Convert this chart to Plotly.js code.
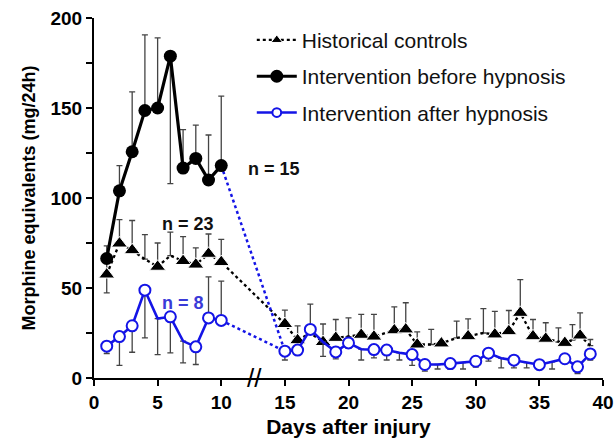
<!DOCTYPE html>
<html>
<head>
<meta charset="utf-8">
<script src="https://cdn.plot.ly/plotly-3.0.1.min.js"></script>
<style>html,body{margin:0;padding:0;background:#fff;}#chart{width:614px;height:443px;}</style>
</head>
<body>
<div id="chart"></div>
<script>
// ---- Data ----
const ctrlDays = [1,2,3,4,5,6,7,8,9,10,15,16,17,18,19,20,21,22,23.6,24.5,25.4,26.5,27.3,28.5,29.4,30.6,31.5,32.6,33.5,34.5,35.5,36.5,37,37.6,38.2,39];
const ctrlMean = [57.5,74.7,71,66,61.8,68,65,63,69,64.4,30,21,25,20,22.3,23,24,23,26.5,27,18.6,18.6,19.2,22.3,23.2,25,24.2,26,36.2,23.2,21.8,20,19.5,21,23.6,18];
const ctrlErrUp = [10,13.3,16.5,13.7,13.2,13,13.5,9.3,11,12.6,7.7,8,16,10,10.2,10.4,11.3,12.3,13,14.8,7,8.4,0,9.3,9.7,13.5,12.8,11.5,18.5,9.3,8.9,7.9,0,8.7,12.6,3.4];
const ctrlErrDown = [10.2,0,0,0,0,0,0,0,0,0,0,0,0,0,0,0,0,0,0,0,0,0,0,0,0,0,0,0,0,0,0,0,0,0,0,0];
const ctrlNoMarker = [4,6,17,20,26.5,28.5,30.6,36.5,37.6,39];

const beforeDays = [1,2,3,4,5,6,7,8,9,10];
const beforeMean = [66.4,104,125.7,148.6,150,178.8,116.6,122,110,118];
const beforeErrUp = [7,14,33.3,42,39,0,21.4,18.5,25,38.6];
const beforeErrDown = [0,0,0,0,0,70.8,0,0,0,0];

const afterEarlyDays = [1,2,3,4,5,6,7,8,9,10];
const afterEarlyMean = [17.7,23,29,48.8,33,34,20.5,17.3,33.4,32];
const afterEarlyErrUp = [0,0,0,0,0,0,0,0,22.8,21.8];
const afterEarlyErrDown = [4.1,16,14.7,26.5,20,20,12.1,9.8,0,0];

const afterLateDays = [15,16,17,18,19,20,21,22,23,24,25,26,27,28,29,30,31,32,33,34,35,36,37,38,39];
const afterLateMean = [14.9,15.5,27,20,14.5,19.5,16,15.8,15.5,14,13,7.5,7.5,8,8.5,9.3,13.8,11,9.9,8.5,7.4,9,10.7,6.2,13.4];
const afterLateErrDown = [4.9,1.9,0,8,3.9,3,6,4.6,5.5,4,6,3.7,2.5,3,3.5,3.3,4.4,5.4,4.3,2.9,2.7,4,2,3.7,3.4];
const afterNoMarker = [5,7,18,21,24,27,29,32,34,36];

const xTicks = [0,5,10,15,20,25,30,35,40];
const yTickVals = [0,25,50,75,100,125,150,175,200];
const yTickText = ['0','','50','','100','','150','','200'];

const seriesNames = ['Historical controls','Intervention before hypnosis','Intervention after hypnosis'];
const nLabels = [{text:'n = 15', x:14.15, y:116}, {text:'n = 23', x:7.4, y:85.5}, {text:'n = 8', x:7.0, y:41.8}];

// ---- Styles ----
const BLUE = '#1414e6';
const ERR = '#444';
const FONT = 'Liberation Sans, Arial, sans-serif';

const traces = [];
traces.push({
  x: ctrlDays, y: ctrlMean, type: 'scatter', mode: 'lines+markers', name: seriesNames[0],
  legendgroup: 'a', legendrank: 1,
  line: {color: '#000', width: 2.3, dash: 'dot'},
  marker: {symbol: 'triangle-up', color: '#000', opacity: 1, size: ctrlDays.map(d => ctrlNoMarker.includes(d) ? 0 : 14)},
  error_y: {type: 'data', symmetric: false, array: ctrlErrUp, arrayminus: ctrlErrDown, color: ERR, thickness: 1.3, width: 3}
});
traces.push({
  x: [beforeDays[beforeDays.length-1], afterLateDays[0]], y: [beforeMean[beforeMean.length-1], afterLateMean[0]],
  type: 'scatter', mode: 'lines', showlegend: false, hoverinfo: 'skip',
  line: {color: BLUE, width: 2.5, dash: 'dot'}
});
traces.push({
  x: [afterEarlyDays[afterEarlyDays.length-1], afterLateDays[0]], y: [afterEarlyMean[afterEarlyMean.length-1], afterLateMean[0]],
  type: 'scatter', mode: 'lines', showlegend: false, hoverinfo: 'skip',
  line: {color: BLUE, width: 2.5, dash: 'dot'}
});
traces.push({
  x: beforeDays, y: beforeMean, type: 'scatter', mode: 'lines+markers', name: seriesNames[1],
  legendgroup: 'b', legendrank: 2,
  line: {color: '#000', width: 3.2},
  marker: {symbol: 'circle', color: '#000', opacity: 1, size: 13},
  error_y: {type: 'data', symmetric: false, array: beforeErrUp, arrayminus: beforeErrDown, color: ERR, thickness: 1.3, width: 3}
});
traces.push({
  x: afterEarlyDays, y: afterEarlyMean, type: 'scatter', mode: 'lines+markers', name: seriesNames[2],
  legendgroup: 'c', legendrank: 3,
  line: {color: BLUE, width: 2.6},
  marker: {symbol: 'circle', color: '#ffffff', opacity: 1, size: afterEarlyDays.map(d => afterNoMarker.includes(d) ? 0 : 11), line: {color: BLUE, width: 2}},
  error_y: {type: 'data', symmetric: false, array: afterEarlyErrUp, arrayminus: afterEarlyErrDown, color: ERR, thickness: 1.3, width: 3}
});
traces.push({
  x: afterLateDays, y: afterLateMean, type: 'scatter', mode: 'lines+markers', name: seriesNames[2],
  legendgroup: 'c', showlegend: false,
  line: {color: BLUE, width: 2.6},
  marker: {symbol: 'circle', color: '#ffffff', opacity: 1, size: afterLateDays.map(d => afterNoMarker.includes(d) ? 0 : 11), line: {color: BLUE, width: 2}},
  error_y: {type: 'data', symmetric: false, array: afterLateDays.map(() => 0), arrayminus: afterLateErrDown, color: ERR, thickness: 1.3, width: 3}
});

const annotations = nLabels.map((n, i) => ({
  x: n.x, y: n.y, xref: 'x', yref: 'y', text: '<b>' + n.text + '</b>', showarrow: false,
  font: {family: FONT, size: 18, color: i === 2 ? '#3a3ad8' : '#111'}
}));
annotations.push({
  x: 12.6, y: 0, xref: 'x', yref: 'y', text: '//', showarrow: false,
  font: {family: FONT, size: 26, color: '#000'}
});

const layout = {
  width: 614, height: 443,
  margin: {l: 94, r: 11, t: 18, b: 65},
  paper_bgcolor: '#fff', plot_bgcolor: '#fff',
  font: {family: FONT, color: '#000'},
  showlegend: true,
  legend: {
    x: 0.31, y: 0.995, xanchor: 'left', yanchor: 'top',
    font: {family: FONT, size: 21, color: '#111'},
    bgcolor: 'rgba(0,0,0,0)', tracegroupgap: 6, itemwidth: 40,
    traceorder: 'grouped'
  },
  xaxis: {
    range: [0, 40], tickvals: xTicks, ticktext: xTicks.map(String),
    showline: true, linecolor: '#000', linewidth: 2, ticks: 'outside', ticklen: 6, tickwidth: 2, tickcolor: '#000',
    showgrid: false, zeroline: false,
    tickfont: {family: FONT, size: 19, color: '#000', weight: 700},
    title: {text: '<b>Days after injury</b>', font: {family: FONT, size: 21, color: '#000'}, standoff: 8}
  },
  yaxis: {
    range: [0, 200], tickvals: yTickVals, ticktext: yTickText,
    showline: true, linecolor: '#000', linewidth: 2, ticks: 'outside', ticklen: 6, tickwidth: 2, tickcolor: '#000',
    showgrid: false, zeroline: false,
    tickfont: {family: FONT, size: 19, color: '#000', weight: 700},
    title: {text: '<b>Morphine equivalents (mg/24h)</b>', font: {family: FONT, size: 18, color: '#000'}, standoff: 10}
  },
  annotations: annotations
};

Plotly.newPlot('chart', traces, layout, {displayModeBar: false, staticPlot: true});
</script>
</body>
</html>
